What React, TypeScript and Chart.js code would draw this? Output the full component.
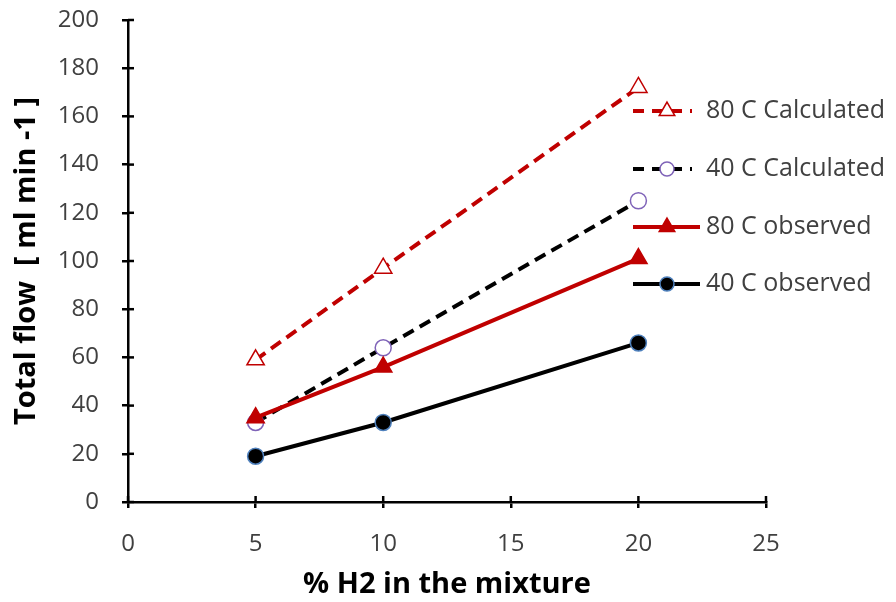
import React, { useEffect, useRef } from "react";
import { Chart, registerables } from "chart.js";

Chart.register(...registerables);

// % H2 in the mixture
const h2Percent = [5, 10, 20];

// Total flow [ml min-1]
const calc80 = [59, 97, 172];
const calc40 = [33, 64, 125];
const obs80 = [35, 56, 101];
const obs40 = [19, 33, 66];

const seriesLabels = ["80 C Calculated", "40 C Calculated", "80 C observed", "40 C observed"];

const xTicks = [0, 5, 10, 15, 20, 25];
const yTicks = [0, 20, 40, 60, 80, 100, 120, 140, 160, 180, 200];

const RED = "#C00000";
const FONT = "'Open Sans', 'Noto Sans', sans-serif";
const TEXT = "#404040";

const toPoints = (ys: number[]) => ys.map((y, i) => ({ x: h2Percent[i], y }));

// Tick marks that cross the axis line (inner half; outer half comes from the grid ticks)
const innerTicks = {
  id: "innerTicks",
  afterDraw(chart: any) {
    const { ctx, chartArea, scales } = chart;
    ctx.save();
    ctx.strokeStyle = "#000";
    ctx.lineWidth = 2.5;
    const len = 6;
    for (const v of xTicks) {
      const px = scales.x.getPixelForValue(v);
      ctx.beginPath();
      ctx.moveTo(px, chartArea.bottom);
      ctx.lineTo(px, chartArea.bottom - len);
      ctx.stroke();
    }
    for (const v of yTicks) {
      const py = scales.y.getPixelForValue(v);
      ctx.beginPath();
      ctx.moveTo(chartArea.left, py);
      ctx.lineTo(chartArea.left + len, py);
      ctx.stroke();
    }
    ctx.restore();
  },
};

function drawMarker(ctx: CanvasRenderingContext2D, ds: any, x: number, y: number, r: number) {
  ctx.save();
  ctx.fillStyle = ds.pointBackgroundColor;
  ctx.strokeStyle = ds.pointBorderColor;
  ctx.lineWidth = ds.pointBorderWidth;
  ctx.setLineDash([]);
  ctx.beginPath();
  if (ds.pointStyle === "triangle") {
    for (let k = 0; k < 3; k++) {
      const a = -Math.PI / 2 + (k * 2 * Math.PI) / 3;
      const px = x + r * Math.cos(a);
      const py = y + r * Math.sin(a);
      if (k === 0) ctx.moveTo(px, py);
      else ctx.lineTo(px, py);
    }
    ctx.closePath();
  } else {
    ctx.arc(x, y, r, 0, Math.PI * 2);
  }
  ctx.fill();
  ctx.stroke();
  ctx.restore();
}

// Legend drawn over the right side of the plot area
const sideLegend = {
  id: "sideLegend",
  afterDatasetsDraw(chart: any) {
    const { ctx } = chart;
    const rows = [111, 169, 227, 284];
    const x0 = 633;
    const textX = 706;
    chart.data.datasets.forEach((ds: any, i: number) => {
      const y = rows[i];
      const dashed = ds.borderDash && ds.borderDash.length > 0;
      const x1 = dashed ? 692 : 700;
      ctx.save();
      ctx.strokeStyle = ds.borderColor;
      ctx.lineWidth = ds.borderWidth;
      ctx.setLineDash(dashed ? [11, 8] : []);
      ctx.beginPath();
      ctx.moveTo(x0, y);
      ctx.lineTo(x1, y);
      ctx.stroke();
      ctx.restore();
      drawMarker(ctx, ds, 667, y, ds.pointStyle === "triangle" ? 9 : 7);
      ctx.save();
      ctx.fillStyle = TEXT;
      ctx.font = `25px ${FONT}`;
      ctx.textBaseline = "middle";
      ctx.textAlign = "left";
      ctx.fillText(seriesLabels[i], textX, y);
      ctx.restore();
    });
  },
};

export default function App() {
  const ref = useRef<HTMLCanvasElement | null>(null);

  useEffect(() => {
    document.body.style.margin = "0";
    const canvas = ref.current;
    if (!canvas) return;
    const chart = new Chart(canvas, {
      type: "line",
      data: {
        datasets: [
          {
            label: seriesLabels[0],
            data: toPoints(calc80),
            borderColor: RED,
            borderWidth: 4,
            borderDash: [12, 7],
            pointStyle: "triangle",
            pointRadius: 10,
            pointBackgroundColor: "#ffffff",
            pointBorderColor: RED,
            pointBorderWidth: 1.5,
            order: 4,
          },
          {
            label: seriesLabels[1],
            data: toPoints(calc40),
            borderColor: "#000000",
            borderWidth: 4,
            borderDash: [12, 7],
            pointStyle: "circle",
            pointRadius: 8,
            pointBackgroundColor: "#ffffff",
            pointBorderColor: "#7F63B8",
            pointBorderWidth: 1.5,
            order: 3,
          },
          {
            label: seriesLabels[2],
            data: toPoints(obs80),
            borderColor: RED,
            borderWidth: 4,
            pointStyle: "triangle",
            pointRadius: 10,
            pointBackgroundColor: RED,
            pointBorderColor: RED,
            pointBorderWidth: 1.5,
            order: 2,
          },
          {
            label: seriesLabels[3],
            data: toPoints(obs40),
            borderColor: "#000000",
            borderWidth: 4,
            pointStyle: "circle",
            pointRadius: 8,
            pointBackgroundColor: "#000000",
            pointBorderColor: "#4F81BD",
            pointBorderWidth: 1.5,
            order: 1,
          },
        ] as any,
      },
      options: {
        animation: false,
        responsive: true,
        maintainAspectRatio: false,
        layout: { padding: { left: 0, right: 130, top: 20, bottom: 0 } },
        plugins: {
          legend: { display: false },
          tooltip: { enabled: false },
        },
        scales: {
          x: {
            type: "linear",
            min: 0,
            max: 25,
            afterBuildTicks: (s: any) => {
              s.ticks = xTicks.map((v) => ({ value: v }));
            },
            afterFit: (s: any) => {
              s.height = 100;
              s.paddingLeft = 0;
              s.paddingRight = 0;
            },
            border: { color: "#000", width: 2.5 },
            grid: { drawOnChartArea: false, drawTicks: true, tickLength: 6, color: "#000", lineWidth: 2.5 },
            ticks: { color: TEXT, font: { family: FONT, size: 24 }, padding: 22, maxRotation: 0 },
            title: {
              display: true,
              text: "% H2 in the mixture",
              color: "#000",
              font: { family: FONT, size: 29, weight: "bold" },
              padding: { top: 0, bottom: 0 },
            },
          },
          y: {
            type: "linear",
            min: 0,
            max: 200,
            afterBuildTicks: (s: any) => {
              s.ticks = yTicks.map((v) => ({ value: v }));
            },
            afterFit: (s: any) => {
              s.width = 128;
              s.paddingTop = 0;
              s.paddingBottom = 0;
            },
            border: { color: "#000", width: 2.5 },
            grid: { drawOnChartArea: false, drawTicks: true, tickLength: 6, color: "#000", lineWidth: 2.5 },
            ticks: { color: TEXT, font: { family: FONT, size: 24 }, padding: 23 },
            title: {
              display: true,
              text: "Total flow  [ ml min -1 ]",
              color: "#000",
              font: { family: FONT, size: 29, weight: "bold" },
              padding: { top: 9, bottom: 0 },
            },
          },
        },
      },
      plugins: [innerTicks, sideLegend],
    });
    return () => chart.destroy();
  }, []);

  return (
    <div style={{ position: "fixed", left: 0, top: 0, width: 896, height: 602, background: "#fff" }}>
      <canvas ref={ref} />
    </div>
  );
}
